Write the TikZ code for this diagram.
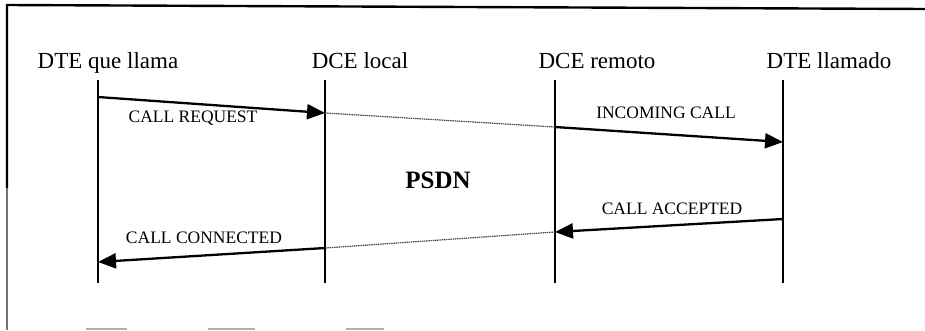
\documentclass[tikz,border=0pt]{standalone}
\usepackage{fontspec}
\setmainfont{Liberation Serif}
\usetikzlibrary{arrows.meta}
\begin{document}
\begin{tikzpicture}[x=1pt,y=-1pt,
  header/.style={font=\fontsize{23}{26}\selectfont, anchor=base, inner sep=0pt},
  msglabel/.style={font=\fontsize{17.5}{20}\selectfont, anchor=base, inner sep=0pt},
  lifeline/.style={line width=2.6pt},
  msg/.style={line width=2.3pt, -{Triangle[length=18pt,width=15pt]}},
  relay/.style={line width=1.2pt, draw=black!70, dash pattern=on 1.5pt off 0.7pt},
  frame/.style={line width=2.4pt},
  framebit/.style={fill=black!30, draw=none}]
\useasboundingbox (0,0) rectangle (925,330);

% frame
\draw[frame] (925,9) -- (7,5) -- (7,188);
\draw[line width=1.6pt, draw=black!55] (7,188) -- (7,330);
\path[framebit] (86,328) rectangle (127,330);
\path[framebit] (208,328) rectangle (255,330);
\path[framebit] (346,328) rectangle (384,330);

% station headers
\node[header] (h1) at (108,68) {DTE que llama};
\node[header] (h2) at (360,68) {DCE local};
\node[header] (h3) at (597,68) {DCE remoto};
\node[header] (h4) at (829,68) {DTE llamado};

% lifelines
\coordinate (t1) at (98,80);   \coordinate (b1) at (98,283);
\coordinate (t2) at (325,80);  \coordinate (b2) at (325,283);
\coordinate (t3) at (555,80);  \coordinate (b3) at (555,283);
\coordinate (t4) at (783,80);  \coordinate (b4) at (783,283);
\draw[lifeline] (t1) -- (b1);
\draw[lifeline] (t2) -- (b2);
\draw[lifeline] (t3) -- (b3);
\draw[lifeline] (t4) -- (b4);

% message points
\coordinate (m1) at (98,97);
\coordinate (m2) at (325,113);
\coordinate (m3) at (555,127);
\coordinate (m4) at (783,142);
\coordinate (n1) at (783,219);
\coordinate (n2) at (555,232);
\coordinate (n3) at (325,248);
\coordinate (n4) at (98,262);

% call set-up
\draw[msg] (m1) -- (m2);
\draw[relay] (m2) -- (m3);
\draw[msg] (m3) -- (m4);
\draw[msg] (n1) -- (n2);
\draw[relay] (n2) -- (n3);
\draw[msg] (n3) -- (n4);

% message labels
\node[msglabel] (l1) at (193,122) {CALL REQUEST};
\node[msglabel] (l2) at (666,118) {INCOMING CALL};
\node[msglabel] (l3) at (672,214) {CALL ACCEPTED};
\node[msglabel] (l4) at (204,243) {CALL CONNECTED};

% network
\node[font=\fontsize{25}{28}\selectfont\bfseries, anchor=base, inner sep=0pt] (net) at (438,188) {PSDN};
\end{tikzpicture}
\end{document}
